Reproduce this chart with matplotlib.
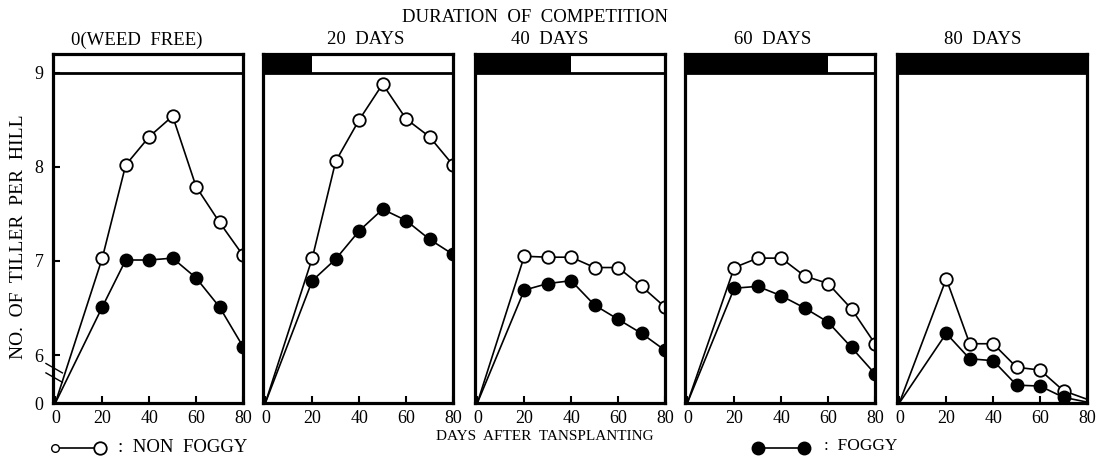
import numpy as np
import matplotlib
matplotlib.use("Agg")
import matplotlib.pyplot as plt
from matplotlib.patches import Rectangle
from matplotlib.lines import Line2D

plt.rcParams["font.family"] = ["Liberation Serif", "DejaVu Serif"]

# Days after transplanting
days = [0, 20, 30, 40, 50, 60, 70, 80]

# Duration of weed competition for each panel (days)
durations = [0, 20, 40, 60, 80]
panel_titles = ["0(WEED  FREE)", "20  DAYS", "40  DAYS", "60  DAYS", "80  DAYS"]

# Number of tillers per hill
non_foggy = [
    [0, 7.03, 8.02, 8.32, 8.54, 7.79, 7.41, 7.06],
    [0, 7.03, 8.06, 8.50, 8.88, 8.51, 8.32, 8.02],
    [0, 7.05, 7.04, 7.04, 6.93, 6.93, 6.73, 6.51],
    [0, 6.93, 7.03, 7.03, 6.84, 6.76, 6.49, 6.12],
    [0, 6.81, 6.12, 6.12, 5.87, 5.84, 5.62, 5.53],
]
foggy = [
    [0, 6.51, 7.01, 7.01, 7.03, 6.82, 6.51, 6.09],
    [0, 6.79, 7.02, 7.32, 7.55, 7.43, 7.23, 7.07],
    [0, 6.69, 6.76, 6.79, 6.53, 6.38, 6.23, 6.05],
    [0, 6.71, 6.73, 6.63, 6.50, 6.35, 6.08, 5.80],
    [0, 6.23, 5.96, 5.94, 5.68, 5.67, 5.55, 5.50],
]
# sampling dates that carry a marker in each panel
marked = [
    [1, 2, 3, 4, 5, 6, 7],
    [1, 2, 3, 4, 5, 6, 7],
    [1, 2, 3, 4, 5, 6, 7],
    [1, 2, 3, 4, 5, 6, 7],
    [1, 2, 3, 4, 5, 6],
]

y_ticks = [0, 6, 7, 8, 9]
x_ticks = [0, 20, 40, 60, 80]

# Broken y axis: the span 0..5.5 is squeezed into a sliver below 6
BREAK = 5.5
BASE = 5.49


def fwd(v):
    v = np.asarray(v, dtype=float)
    return np.where(v >= BREAK, v, BASE + v * (BREAK - BASE) / BREAK)


def inv(u):
    u = np.asarray(u, dtype=float)
    return np.where(u >= BREAK, u, (u - BASE) * BREAK / (BREAK - BASE))


fig = plt.figure(figsize=(11.07, 4.61), dpi=100)

W = 1107.0
H = 461.0
lefts = [53, 263, 475, 685, 897]
title_x = [137, 366, 550, 773, 983]
ax_w = 190 / W
ax_bottom = (H - 403) / H
ax_h = (403 - 54) / H

spine_w = 2.3
for i, left in enumerate(lefts):
    ax = fig.add_axes([left / W, ax_bottom, ax_w, ax_h])
    ax.set_yscale("function", functions=(fwd, inv))
    ax.set_xlim(-1, 80)
    ax.set_ylim(0, 9.2)

    ax.plot(days, non_foggy[i], color="black", lw=1.2, marker="o",
            ms=9, mfc="white", mec="black", mew=1.3, zorder=4,
            markevery=marked[i])
    ax.plot(days, foggy[i], color="black", lw=1.2, marker="o",
            ms=9, mfc="black", mec="black", mew=1.0, zorder=4,
            markevery=marked[i])

    # competition bar across the top of the frame
    ax.add_patch(Rectangle((-1, 9.0), durations[i] + 1, 0.2,
                           facecolor="black", edgecolor="none", zorder=5))
    ax.axhline(9.0, color="black", lw=2.0, zorder=5)

    for s in ax.spines.values():
        s.set_linewidth(spine_w)
        s.set_zorder(6)

    ax.set_xticks(x_ticks)
    ax.set_xticklabels([str(t) for t in x_ticks], fontsize=13)
    ax.tick_params(axis="x", direction="in", length=5, width=1.5, pad=5)
    if i == 0:
        ax.set_yticks(y_ticks)
        ax.set_yticklabels([str(t) for t in y_ticks], fontsize=13)
        ax.tick_params(axis="y", direction="in", length=5, width=1.5, pad=7)
        # break marks on the left spine
        for yb in (5.86, 5.76):
            ax.plot([-4, 3], [yb + 0.05, yb - 0.05], color="black", lw=1.0,
                    clip_on=False, zorder=7)
    else:
        ax.set_yticks([])
    ax.minorticks_off()

    fig.text(title_x[i] / W, (H - 40) / H, panel_titles[i], ha="center",
             va="center", fontsize=13.5)

fig.text(0.483, 0.963, "DURATION  OF  COMPETITION", ha="center", va="center",
         fontsize=13.5)
fig.text(18.5 / W, 0.486, "NO.  OF  TILLER  PER  HILL", ha="center",
         va="center", rotation=90, fontsize=14)
fig.text(0.492, 0.054, "DAYS  AFTER  TANSPLANTING", ha="center", va="center",
         fontsize=11)

# legend keys
fig.add_artist(Line2D([55 / W, 100 / W], [(H - 448) / H] * 2, color="black",
                      lw=1.2, transform=fig.transFigure))
fig.add_artist(Line2D([55 / W], [(H - 448) / H], marker="o", ms=5.5,
                      mfc="white", mec="black", mew=1.0, lw=0,
                      transform=fig.transFigure))
fig.add_artist(Line2D([100 / W], [(H - 448) / H], marker="o", ms=9,
                      mfc="white", mec="black", mew=1.3, lw=0,
                      transform=fig.transFigure))
fig.text(118 / W, (H - 447) / H, ":  NON  FOGGY", ha="left", va="center",
         fontsize=13.5)

fig.add_artist(Line2D([758 / W, 804 / W], [(H - 448) / H] * 2, color="black",
                      lw=1.2, transform=fig.transFigure))
fig.add_artist(Line2D([758 / W, 804 / W], [(H - 448) / H] * 2, marker="o",
                      ms=9, mfc="black", mec="black", lw=0,
                      transform=fig.transFigure))
fig.text(824 / W, (H - 446) / H, ":  FOGGY", ha="left", va="center",
         fontsize=12.5)

fig.savefig("out.png", dpi=100)
